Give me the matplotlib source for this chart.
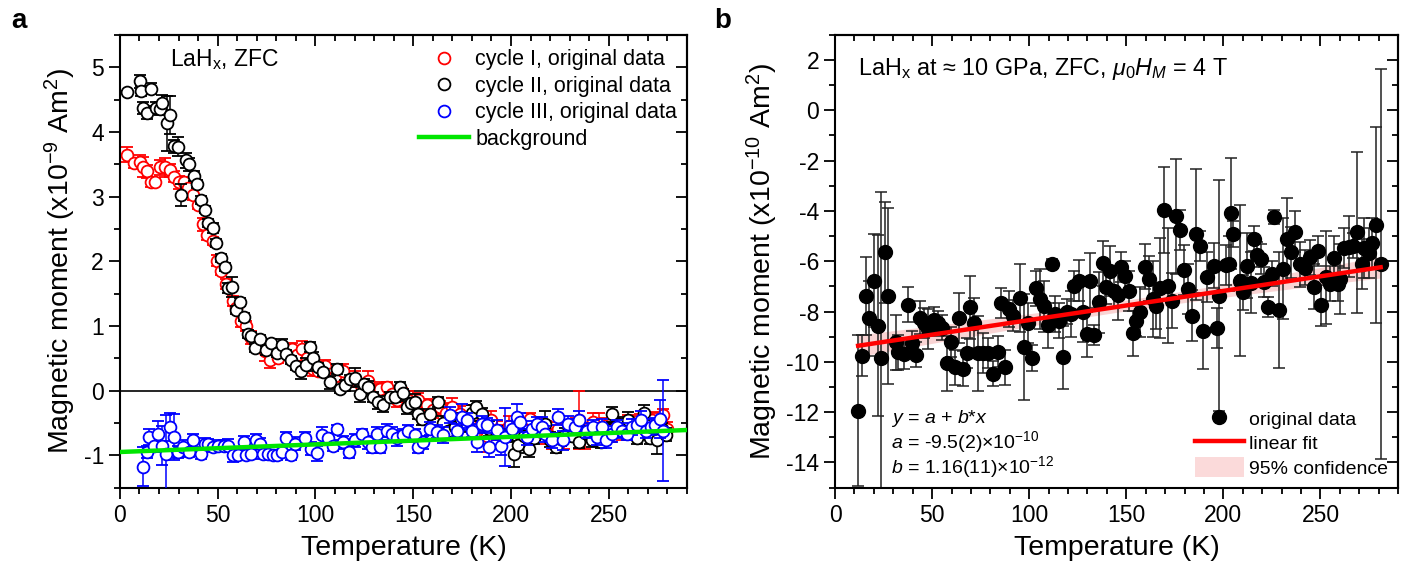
import numpy as np
import matplotlib
matplotlib.use('Agg')
import matplotlib.pyplot as plt
from matplotlib.lines import Line2D
from matplotlib.patches import Patch
from matplotlib.ticker import MultipleLocator, NullFormatter

plt.rcParams['font.family'] = ['Liberation Sans', 'DejaVu Sans']
plt.rcParams['mathtext.fontset'] = 'custom'
plt.rcParams['mathtext.rm'] = 'Liberation Sans'
plt.rcParams['mathtext.it'] = 'Liberation Sans:italic'
plt.rcParams['axes.unicode_minus'] = False

# ---- panel a : cycle I (red) ----
red_T = [3.8, 7.2, 10.1, 11.8, 14.0, 16.0, 17.7, 20.3, 22.8, 25.4,
         27.6, 30.2, 32.6, 34.8, 37.3, 39.9, 42.5, 44.7, 47.6, 49.8,
         51.8, 54.4, 57.8, 59.5, 62.1, 64.6, 67.2, 70.6, 74.0, 76.6,
         80.8, 84.2, 87.8, 90.5, 92.9, 95.5, 98.9, 101.5, 104.9, 107.5,
         110.2, 114.2, 117.0, 120.2, 123.5, 127.0, 130.0, 133.0, 136.4, 139.0,
         141.5, 144.5, 147.5, 150.0, 152.6, 156.9, 160.0, 163.7, 167.0, 169.7,
         173.9, 177.0, 180.7, 184.0, 187.6, 190.0, 193.0, 196.0, 199.0, 202.0,
         205.0, 209.7, 212.0, 215.0, 218.0, 221.0, 224.0, 227.0, 230.0, 233.0,
         235.0, 238.0, 242.0, 245.0, 248.0, 251.0, 254.0, 257.0, 260.0, 263.0,
         266.0, 269.0, 272.0, 275.0, 277.9, 280.0]
red_y = [3.65, 3.52, 3.54, 3.46, 3.39, 3.23, 3.22, 3.45, 3.45, 3.41,
         3.31, 3.22, 3.23, 3.13, 3.02, 2.87, 2.57, 2.41, 2.31, 2.01,
         1.85, 1.65, 1.38, 1.28, 1.07, 1.00, 0.82, 0.74, 0.61, 0.47,
         0.51, 0.61, 0.64, 0.55, 0.64, 0.50, 0.33, 0.30, 0.38, 0.25,
         0.22, 0.31, 0.15, 0.18, 0.08, 0.15, 0.00, 0.03, 0.05, -0.05,
         -0.15, -0.08, -0.15, -0.20, -0.15, -0.23, -0.30, -0.26, -0.35, -0.26,
         -0.36, -0.45, -0.38, -0.55, -0.70, -0.46, -0.62, -0.65, -0.55, -0.60,
         -0.70, -0.44, -0.60, -0.55, -0.65, -0.75, -0.60, -0.70, -0.62, -0.55,
         -0.46, -0.70, -0.49, -0.60, -0.55, -0.65, -0.58, -0.62, -0.50, -0.55,
         -0.48, -0.55, -0.45, -0.50, -0.38, -0.60]
red_err = [0.12, 0.08, 0.10, 0.15, 0.10, 0.08, 0.06, 0.12, 0.15, 0.10,
           0.08, 0.10, 0.08, 0.06, 0.08, 0.06, 0.10, 0.08, 0.06, 0.08,
           0.06, 0.08, 0.08, 0.06, 0.08, 0.08, 0.10, 0.12, 0.15, 0.12,
           0.08, 0.10, 0.10, 0.08, 0.12, 0.10, 0.10, 0.08, 0.10, 0.12,
           0.08, 0.10, 0.10, 0.12, 0.08, 0.15, 0.10, 0.10, 0.08, 0.12,
           0.10, 0.12, 0.15, 0.10, 0.12, 0.10, 0.12, 0.10, 0.15, 0.15,
           0.12, 0.10, 0.15, 0.20, 0.25, 0.15, 0.15, 0.12, 0.15, 0.12,
           0.20, 0.10, 0.15, 0.12, 0.18, 0.15, 0.12, 0.20, 0.15, 0.12,
           0.45, 0.20, 0.15, 0.25, 0.12, 0.15, 0.12, 0.15, 0.12, 0.15,
           0.12, 0.15, 0.12, 0.15, 0.10, 0.12]

# ---- panel a : cycle II (black) ----
blk_T = [3.8, 10.1, 10.6, 11.8, 14.0, 16.0, 18.6, 20.3, 21.7, 24.0,
         25.7, 27.6, 29.7, 31.4, 33.9, 35.1, 37.9, 39.4, 41.6, 43.6,
         45.0, 47.6, 49.3, 51.5, 53.5, 55.2, 57.5, 59.5, 61.2, 63.4,
         65.5, 67.2, 68.9, 71.4, 74.9, 77.4, 80.5, 82.9, 85.1, 87.6,
         89.9, 92.4, 95.0, 97.2, 98.9, 101.4, 104.0, 107.4, 110.8, 112.5,
         115.1, 117.6, 120.2, 122.8, 125.0, 127.0, 129.6, 132.1, 134.7, 138.1,
         140.7, 143.2, 144.9, 146.7, 148.8, 150.9, 152.6, 154.3, 158.6, 162.5,
         165.0, 168.0, 171.5, 174.5, 177.3, 180.0, 182.0, 185.3, 188.8, 193.0,
         198.0, 201.4, 203.7, 206.5, 209.4, 211.7, 214.5, 217.4, 219.7, 223.0,
         225.5, 227.8, 231.0, 234.6, 238.0, 241.5, 246.0, 248.5, 251.8, 255.3,
         258.0, 260.0, 262.0, 264.4, 267.9, 271.3, 274.8, 277.0, 279.4]
blk_y = [4.62, 4.78, 4.63, 4.37, 4.30, 4.67, 4.37, 4.36, 4.45, 4.13,
         4.26, 3.78, 3.77, 3.03, 3.56, 3.50, 3.32, 3.20, 2.95, 2.80,
         2.59, 2.51, 2.28, 2.05, 1.91, 1.59, 1.60, 1.24, 1.37, 1.14,
         0.88, 0.85, 0.66, 0.80, 0.63, 0.74, 0.58, 0.71, 0.56, 0.47,
         0.38, 0.30, 0.40, 0.67, 0.51, 0.36, 0.28, 0.13, 0.33, 0.03,
         0.08, 0.18, 0.20, -0.05, 0.10, 0.05, -0.10, -0.18, -0.23, -0.10,
         -0.10, 0.05, -0.03, -0.26, -0.20, -0.18, -0.36, -0.44, -0.36, -0.18,
         -0.50, -0.62, -0.57, -0.45, -0.54, -0.35, -0.26, -0.37, -0.59, -0.65,
         -0.70, -0.98, -0.84, -0.70, -0.90, -0.73, -0.62, -0.51, -0.76, -0.87,
         -0.75, -0.68, -0.70, -0.79, -0.65, -0.76, -0.79, -0.60, -0.37, -0.51,
         -0.62, -0.45, -0.60, -0.73, -0.34, -0.73, -0.76, -0.60, -0.68]
blk_err = [0.02, 0.10, 0.08, 0.10, 0.10, 0.08, 0.10, 0.10, 0.12, 0.42,
           0.30, 0.10, 0.15, 0.17, 0.12, 0.10, 0.08, 0.06, 0.06, 0.06,
           0.06, 0.08, 0.06, 0.06, 0.06, 0.08, 0.15, 0.06, 0.06, 0.06,
           0.06, 0.06, 0.06, 0.06, 0.08, 0.06, 0.06, 0.08, 0.06, 0.06,
           0.06, 0.12, 0.10, 0.08, 0.08, 0.06, 0.06, 0.10, 0.08, 0.06,
           0.08, 0.06, 0.15, 0.12, 0.08, 0.10, 0.08, 0.10, 0.10, 0.08,
           0.08, 0.08, 0.06, 0.10, 0.08, 0.12, 0.08, 0.10, 0.08, 0.08,
           0.10, 0.12, 0.10, 0.10, 0.10, 0.12, 0.10, 0.10, 0.12, 0.10,
           0.10, 0.20, 0.12, 0.10, 0.12, 0.10, 0.12, 0.20, 0.12, 0.10,
           0.10, 0.10, 0.10, 0.10, 0.10, 0.12, 0.10, 0.10, 0.12, 0.10,
           0.10, 0.12, 0.10, 0.10, 0.12, 0.10, 0.22, 0.10, 0.10]

# ---- panel a : cycle III (blue) ----
blu_T = [11.8, 14.0, 15.1, 17.3, 19.4, 21.7, 23.7, 25.7, 27.6, 29.7,
         32.2, 35.1, 37.3, 41.3, 43.3, 45.0, 47.6, 50.1, 53.2, 55.2,
         57.8, 60.4, 63.4, 64.6, 67.2, 69.7, 71.4, 73.2, 75.7, 78.3,
         80.5, 82.9, 85.1, 87.3, 89.3, 94.4, 97.5, 100.6, 103.2, 106.6,
         109.1, 110.8, 114.2, 117.3, 120.2, 123.6, 127.0, 128.7, 131.3, 133.0,
         136.4, 139.0, 141.5, 144.9, 147.5, 150.9, 152.6, 155.1, 158.6, 162.0,
         165.4, 168.8, 172.2, 174.8, 177.3, 179.9, 182.5, 185.0, 187.6, 189.0,
         192.7, 194.7, 197.0, 200.7, 202.9, 204.6, 208.0, 210.6, 213.1, 215.7,
         217.4, 220.8, 224.2, 226.4, 229.3, 232.7, 234.8, 238.7, 242.1, 244.2,
         246.4, 248.6, 251.5, 254.0, 256.6, 259.2, 261.7, 264.3, 266.5, 268.9,
         271.5, 273.7, 276.2, 277.9]
blu_y = [-1.18, -0.95, -0.72, -0.85, -0.67, -0.85, -0.98, -0.56, -0.72, -0.95,
         -0.87, -0.95, -0.77, -0.98, -0.82, -0.83, -0.87, -0.85, -0.85, -0.85,
         -1.00, -1.00, -0.80, -1.00, -0.98, -0.77, -0.82, -0.98, -0.98, -1.00,
         -1.00, -0.95, -0.74, -1.00, -0.82, -0.74, -0.90, -0.97, -0.69, -0.74,
         -0.85, -0.59, -0.80, -0.95, -0.77, -0.67, -0.80, -0.87, -0.67, -0.87,
         -0.62, -0.67, -0.74, -0.69, -0.62, -0.69, -0.87, -0.80, -0.59, -0.64,
         -0.69, -0.38, -0.62, -0.41, -0.46, -0.62, -0.80, -0.51, -0.54, -0.87,
         -0.61, -0.85, -0.72, -0.59, -0.41, -0.49, -0.72, -0.59, -0.51, -0.56,
         -0.67, -0.77, -0.41, -0.77, -0.51, -0.56, -0.46, -0.62, -0.56, -0.72,
         -0.56, -0.77, -0.67, -0.56, -0.62, -0.67, -0.56, -0.54, -0.46, -0.62,
         -0.56, -0.54, -0.44, -0.62]
blu_err = [0.30, 0.10, 0.12, 0.10, 0.20, 0.30, 0.60, 0.22, 0.35, 0.10,
           0.10, 0.08, 0.10, 0.08, 0.08, 0.08, 0.08, 0.08, 0.08, 0.10,
           0.10, 0.08, 0.10, 0.08, 0.08, 0.10, 0.08, 0.08, 0.10, 0.08,
           0.08, 0.08, 0.10, 0.08, 0.10, 0.10, 0.10, 0.12, 0.12, 0.08,
           0.08, 0.05, 0.10, 0.10, 0.10, 0.08, 0.10, 0.10, 0.10, 0.10,
           0.10, 0.10, 0.12, 0.10, 0.08, 0.10, 0.10, 0.10, 0.10, 0.10,
           0.12, 0.12, 0.10, 0.20, 0.12, 0.10, 0.15, 0.12, 0.12, 0.15,
           0.15, 0.15, 0.45, 0.12, 0.20, 0.15, 0.12, 0.12, 0.10, 0.15,
           0.12, 0.12, 0.12, 0.15, 0.12, 0.12, 0.15, 0.12, 0.10, 0.12,
           0.12, 0.12, 0.12, 0.10, 0.12, 0.10, 0.12, 0.10, 0.15, 0.12,
           0.12, 0.12, 0.30, 0.78]

bg_T = [0, 290]
bg_y = [-0.95, -0.61]

# ---- panel b : original data ----
b_T = [11.9, 14.1, 16.0, 17.7, 19.9, 22.0, 23.7, 25.8, 27.5, 31.3,
       32.6, 35.7, 37.8, 39.8, 41.7, 44.0, 46.0, 48.1, 51.2, 53.2,
       55.3, 57.9, 59.8, 61.8, 63.9, 66.1, 68.2, 69.6, 71.8, 73.8,
       76.4, 79.0, 81.6, 83.8, 85.4, 87.6, 89.6, 91.9, 95.3, 97.4,
       99.6, 101.7, 103.6, 105.7, 107.4, 109.5, 111.7, 113.4, 115.6, 117.3,
       119.7, 121.6, 123.3, 125.4, 127.6, 129.7, 131.4, 133.6, 135.7, 137.8,
       139.5, 141.4, 143.5, 145.5, 147.4, 149.5, 151.5, 153.4, 155.2, 157.2,
       159.5, 161.5, 163.8, 165.3, 167.6, 169.3, 171.5, 173.6, 175.7, 177.6,
       179.6, 181.7, 183.6, 185.7, 187.8, 189.7, 191.8, 195.0, 196.9, 197.9,
       201.1, 202.8, 203.9, 205.2, 208.6, 210.3, 212.2, 214.2, 216.0, 217.2,
       219.4, 221.1, 222.8, 224.9, 226.3, 228.5, 230.6, 232.8, 234.9, 237.0,
       239.3, 241.9, 244.5, 246.8, 248.8, 250.5, 253.1, 254.8, 256.9, 259.1,
       260.3, 262.0, 264.6, 266.9, 268.6, 271.2, 272.6, 275.0, 276.7, 278.6,
       281.0]
b_y = [-11.94, -9.75, -7.40, -8.27, -6.77, -8.57, -9.85, -5.65, -7.40, -9.22,
       -9.62, -9.69, -7.73, -9.26, -9.72, -8.25, -8.47, -8.69, -8.33, -8.47,
       -8.65, -10.06, -9.22, -10.22, -8.25, -10.28, -9.66, -7.83, -8.47, -9.66,
       -9.66, -9.66, -10.48, -9.59, -7.67, -10.22, -7.90, -8.16, -7.46, -9.40,
       -8.47, -9.85, -7.07, -7.50, -7.80, -8.55, -6.11, -8.10, -8.37, -9.82,
       -8.00, -8.10, -6.97, -6.77, -8.03, -8.90, -6.77, -8.92, -7.64, -6.09,
       -7.01, -6.38, -7.17, -7.33, -6.22, -6.58, -7.17, -8.87, -8.37, -8.01,
       -6.22, -6.69, -7.51, -7.78, -7.06, -3.96, -6.97, -7.57, -4.22, -4.75,
       -6.34, -7.10, -8.16, -4.93, -5.40, -8.77, -6.64, -6.18, -8.66, -7.37,
       -6.15, -6.10, -4.10, -4.92, -6.77, -7.24, -6.18, -6.85, -5.10, -5.74,
       -5.92, -6.84, -7.83, -6.50, -4.23, -7.94, -6.30, -5.12, -5.65, -4.82,
       -6.12, -6.25, -5.85, -7.01, -5.58, -7.76, -6.63, -6.90, -5.88, -6.90,
       -6.70, -5.47, -5.42, -5.38, -4.85, -6.12, -5.47, -5.68, -5.27, -4.56,
       -6.12]
b_err = [3.0, 0.8, 1.55, 1.5, 1.85, 3.6, 6.6, 2.0, 3.5, 1.1,
         0.7, 0.6, 0.7, 0.5, 0.5, 0.66, 0.6, 0.8, 0.5, 0.5,
         0.5, 1.1, 0.6, 0.7, 1.0, 0.7, 0.6, 1.25, 1.0, 1.5,
         0.8, 0.6, 0.5, 0.6, 0.6, 0.7, 0.7, 0.6, 1.35, 2.1,
         0.8, 0.5, 0.7, 1.2, 1.0, 0.9, 0.2, 0.7, 0.7, 1.26,
         0.5, 0.9, 0.6, 0.8, 1.2, 0.9, 1.1, 0.4, 1.2, 0.9,
         0.7, 1.0, 0.7, 1.0, 0.6, 0.6, 0.8, 0.9, 0.6, 1.0,
         0.9, 0.9, 1.5, 0.9, 2.0, 1.7, 2.3, 1.1, 2.3, 0.8,
         1.0, 1.0, 1.0, 2.6, 0.6, 1.5, 1.0, 0.9, 0.8, 4.6,
         0.8, 1.1, 2.2, 0.5, 3.0, 0.7, 1.3, 1.2, 0.5, 0.5,
         0.6, 0.6, 0.4, 0.5, 0.27, 2.3, 2.0, 1.65, 1.0, 0.8,
         0.9, 0.7, 0.7, 0.9, 0.6, 0.8, 1.85, 0.7, 0.9, 0.7,
         1.4, 0.8, 1.2, 0.5, 3.2, 1.0, 1.2, 1.0, 1.0, 3.9,
         7.75]

fit_a = -9.5
fit_b = 1.16e-2

fig = plt.figure(figsize=(14.06, 5.63), dpi=100)
axa = fig.add_axes([0.0853, 0.134, 0.4033, 0.804])
axb = fig.add_axes([0.5939, 0.134, 0.4005, 0.804])


def style_axes(ax, xmaj, xmin, ymaj, ymin):
    for s in ax.spines.values():
        s.set_linewidth(1.5)
    ax.xaxis.set_major_locator(MultipleLocator(xmaj))
    ax.xaxis.set_minor_locator(MultipleLocator(xmin))
    ax.yaxis.set_major_locator(MultipleLocator(ymaj))
    ax.yaxis.set_minor_locator(MultipleLocator(ymin))
    ax.tick_params(which='both', direction='out', width=1.3, labelsize=16.5)
    ax.tick_params(which='major', length=8)
    ax.tick_params(which='minor', length=4)
    top = ax.secondary_xaxis('top')
    top.xaxis.set_major_locator(MultipleLocator(xmaj))
    top.xaxis.set_minor_locator(MultipleLocator(xmin))
    top.xaxis.set_major_formatter(NullFormatter())
    top.tick_params(which='both', direction='in', width=1.3)
    top.tick_params(which='major', length=8)
    top.tick_params(which='minor', length=4)
    top.spines['top'].set_linewidth(1.5)
    right = ax.secondary_yaxis('right')
    right.yaxis.set_major_locator(MultipleLocator(ymaj))
    right.yaxis.set_minor_locator(MultipleLocator(ymin))
    right.yaxis.set_major_formatter(NullFormatter())
    right.tick_params(which='both', direction='in', width=1.3)
    right.tick_params(which='major', length=8)
    right.tick_params(which='minor', length=4)
    right.spines['right'].set_linewidth(1.5)


# ---------------- panel a ----------------
axa.axhline(0, color='black', lw=1.2, zorder=1)
common = dict(fmt='o', ms=8.5, mfc='white', mew=1.3, elinewidth=1.1, capsize=4, capthick=1.1)
axa.errorbar(red_T, red_y, yerr=red_err, color='red', zorder=2, **common)
axa.errorbar(blk_T, blk_y, yerr=blk_err, color='black', zorder=3, **common)
axa.errorbar(blu_T, blu_y, yerr=blu_err, color='#0000ff', zorder=4, **common)
axa.plot(bg_T, bg_y, color='#00e600', lw=3.2, zorder=5)
axa.set_xlim(0, 290)
axa.set_ylim(-1.5, 5.5)
style_axes(axa, 50, 10, 1, 0.5)
axa.set_xlabel('Temperature (K)', fontsize=20.5, labelpad=6)
axa.set_ylabel('Magnetic moment (x10$^{\\mathregular{-9}}$ Am$^{\\mathregular{2}}$)', fontsize=20.5, labelpad=4)
axa.text(25.5, 5.12, 'LaH$_{\\mathregular{x}}$, ZFC', fontsize=16.5, va='center')

hand_a = [Line2D([], [], marker='o', ls='none', ms=8.5, mfc='white', mec='red', mew=1.3),
          Line2D([], [], marker='o', ls='none', ms=8.5, mfc='white', mec='black', mew=1.3),
          Line2D([], [], marker='o', ls='none', ms=8.5, mfc='white', mec='#0000ff', mew=1.3),
          Line2D([], [], color='#00e600', lw=3.2)]
lab_a = ['cycle I, original data', 'cycle II, original data', 'cycle III, original data', 'background']
axa.legend(hand_a, lab_a, loc='upper left', bbox_to_anchor=(0.505, 0.997), frameon=False,
           fontsize=15.5, handlelength=2.3, handletextpad=0.3, labelspacing=0.26, borderaxespad=0.2)

# ---------------- panel b ----------------
T_fit = np.linspace(min(b_T), max(b_T), 100)
y_fit = fit_a + fit_b * T_fit
tb = np.array(b_T)
yb = np.array(b_y)
res = yb - (fit_a + fit_b * tb)
s = np.sqrt(np.sum(res ** 2) / (len(tb) - 2))
half = 1.98 * s * np.sqrt(1 / len(tb) + (T_fit - tb.mean()) ** 2 / np.sum((tb - tb.mean()) ** 2))
axb.fill_between(T_fit, y_fit - half, y_fit + half, color='#f6b8b8', alpha=0.6, lw=0, zorder=1)
axb.errorbar(b_T, b_y, yerr=b_err, fmt='o', ms=10, color='black', ecolor='#222222',
             elinewidth=1.1, capsize=4, capthick=1.1, zorder=2)
axb.plot(T_fit, y_fit, color='#ff0000', lw=3.2, zorder=3)
axb.set_xlim(0, 290)
axb.set_ylim(-15, 3)
style_axes(axb, 50, 10, 2, 1)
axb.set_xlabel('Temperature (K)', fontsize=20.5, labelpad=6)
axb.set_ylabel('Magnetic moment (x10$^{\\mathregular{-10}}$ Am$^{\\mathregular{2}}$)', fontsize=20.5, labelpad=4)
axb.text(12, 1.65, 'LaH$_{\\mathregular{x}}$ at ≈ 10 GPa, ZFC, $\\mu_0H_M$ = 4 T', fontsize=16.8, va='center')
axb.text(29, -12.25, '$y$ = $a$ + $b$*$x$', fontsize=14, va='center')
axb.text(29, -13.2, '$a$ = -9.5(2)×10$^{\\mathregular{-10}}$', fontsize=14, va='center')
axb.text(29, -14.2, '$b$ = 1.16(11)×10$^{\\mathregular{-12}}$', fontsize=14, va='center')

hand_b = [Line2D([], [], marker='o', ls='none', ms=10, color='black'),
          Line2D([], [], color='#ff0000', lw=3.2),
          Patch(facecolor='#fbdada', edgecolor='none')]
lab_b = ['original data', 'linear fit', '95% confidence']
axb.legend(hand_b, lab_b, loc='lower right', bbox_to_anchor=(1.0, 0.0), frameon=False,
           fontsize=14, handlelength=2.5, handleheight=1.2, handletextpad=0.3,
           labelspacing=0.2, borderaxespad=0.1)

fig.text(0.008, 0.962, 'a', fontsize=20, fontweight='bold', va='center')
fig.text(0.508, 0.962, 'b', fontsize=20, fontweight='bold', va='center')

fig.savefig('out.png', dpi=100)
